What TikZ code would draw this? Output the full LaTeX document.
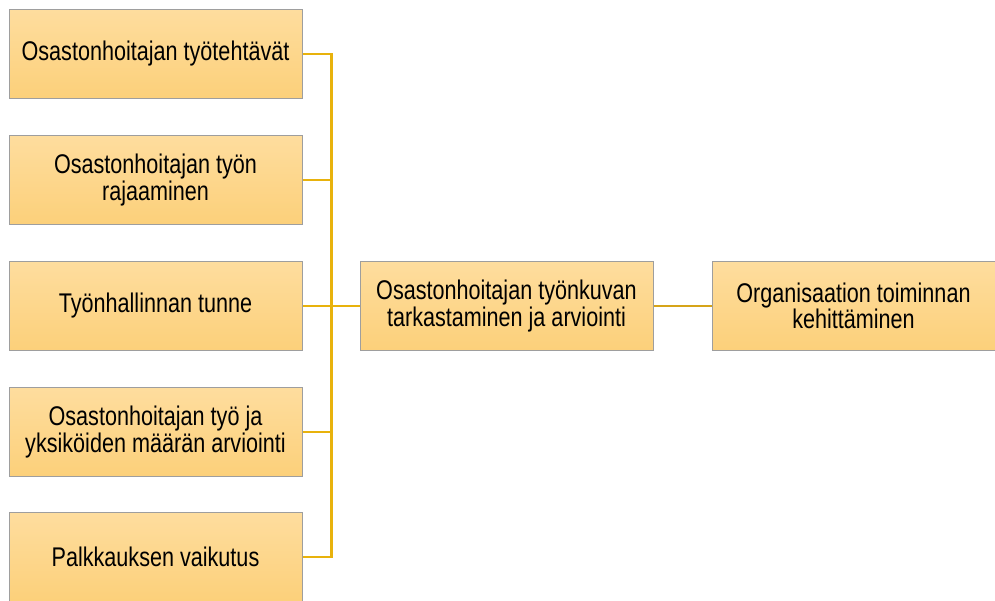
\documentclass[tikz,border=0pt]{standalone}
\usepackage{fontspec}
\setmainfont[FakeStretch=0.8]{Liberation Sans}
\usepackage{tikz}
\definecolor{boxtop}{HTML}{FEDD9E}
\definecolor{boxbot}{HTML}{FCD07A}
\definecolor{boxedge}{HTML}{9E9E9E}
\definecolor{linkgold}{HTML}{E8B20C}
\definecolor{linkdark}{HTML}{D6A419}

\begin{document}
\begin{tikzpicture}[x=1pt,y=-1pt,
  topic/.style={draw=boxedge,line width=1pt,top color=boxtop,bottom color=boxbot,
    minimum width=293pt,minimum height=89pt,inner sep=2pt,align=center,
    font=\fontsize{27}{22}\selectfont},
  link/.style={draw=linkgold,line width=2.2pt}]
\useasboundingbox (0,0) rectangle (995,601);
\node[topic] (t1) at (155.5,54) {Osastonhoitajan työtehtävät};
\node[topic] (t2) at (155.5,180) {Osastonhoitajan työn\\rajaaminen};
\node[topic] (t3) at (155.5,306) {Työnhallinnan tunne};
\node[topic] (t4) at (155.5,432) {Osastonhoitajan työ ja\\yksiköiden määrän arviointi};
\node[topic] (t5) at (155.5,557) {Palkkauksen vaikutus};
\node[topic] (mid) at (506.5,306) {Osastonhoitajan työnkuvan\\tarkastaminen ja arviointi};
\node[topic,minimum width=283pt] (goal) at (853.5,306) {Organisaation toiminnan\\kehittäminen};
\coordinate (bus) at (331.5,306);
\foreach \t in {t1,t2,t3,t4,t5}
  \draw[link] (\t.east) -| (bus);
\draw[link] (bus) -- (mid.west);
\draw[link,draw=linkdark] (mid.east) -- (goal.west);
\end{tikzpicture}
\end{document}
